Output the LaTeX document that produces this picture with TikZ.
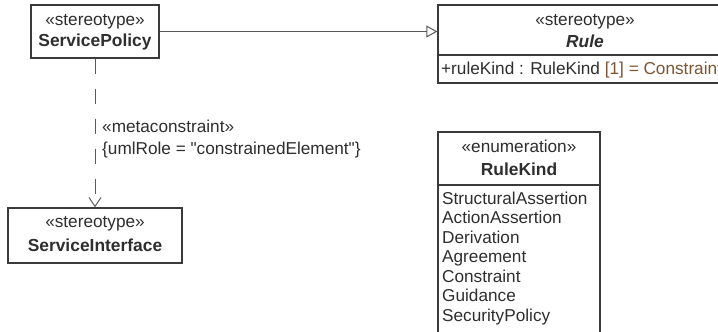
\documentclass[tikz,border=0pt]{standalone}
\usepackage{fontspec}
\setmainfont{Liberation Sans}[Ligatures=TeXOff]
\usetikzlibrary{arrows.meta}
\definecolor{txt}{HTML}{2E2E2E}
\definecolor{edge}{HTML}{3A3A3A}
\definecolor{wire}{HTML}{5A5A5A}
\definecolor{valc}{HTML}{7D5532}
\tikzset{
  umlbox/.style={draw=edge, line width=1.3pt, fill=white, inner sep=0pt},
  lbl/.style={text=txt, inner sep=0pt, font=\fontsize{17.2}{19.5}\selectfont},
  ttl/.style={lbl, font=\fontsize{17.4}{19.5}\selectfont\bfseries},
  wireline/.style={draw=wire, line width=1pt}
}
\begin{document}
\begin{tikzpicture}[x=1pt,y=-1pt]
\useasboundingbox (0,0) rectangle (718,332);
\clip (0,0) rectangle (718,332);
\fill[white] (0,0) rectangle (718,332);

% ServicePolicy
\node[umlbox, minimum width=128pt, minimum height=53pt] (sp) at (95,31.5) {};
\node[lbl] (spst) at (95,22) {«stereotype»};
\node[ttl] (spname) at (95,42) {ServicePolicy};

% ServiceInterface
\node[umlbox, minimum width=174pt, minimum height=55pt] (si) at (95,235.5) {};
\node[lbl] (sist) at (95,224) {«stereotype»};
\node[ttl] (siname) at (95,245) {ServiceInterface};

% Rule
\node[umlbox, minimum width=294pt, minimum height=78pt] (rule) at (585,44) {};
\coordinate (ruleL) at (438,55);
\coordinate (ruleR) at (732,55);
\draw[draw=edge, line width=1.3pt] (ruleL) -- (ruleR);
\node[lbl] (rulest) at (585,22) {«stereotype»};
\node[ttl, font=\fontsize{17.4}{19.5}\selectfont\bfseries\itshape] (rulename) at (585,41) {Rule};
\node[lbl, anchor=west] (ruleattr) at (441,70) {+ruleKind : RuleKind \textcolor{valc}{[1] = Constraint}};

% RuleKind
\node[umlbox, minimum width=162pt, minimum height=208pt] (rk) at (519,236) {};
\coordinate (rkL) at (438,185);
\coordinate (rkR) at (600,185);
\draw[draw=edge, line width=1.3pt] (rkL) -- (rkR);
\node[lbl] (rkst) at (519,146) {«enumeration»};
\node[ttl] (rkname) at (519,169) {RuleKind};
\foreach \t [count=\i] in {StructuralAssertion,ActionAssertion,Derivation,Agreement,Constraint,Guidance,SecurityPolicy}{
  \node[lbl, anchor=base west] (item\i) at (442,{198+6+(\i-1)*19.5}) {\t};
}

% connectors
\draw[wireline, -{Triangle[open, length=11pt, width=12pt, line width=1pt]}] (sp.east) -- (sp.east -| rule.west);
\draw[wireline, dash pattern=on 15pt off 15pt, -{Straight Barb[length=9pt, width=12pt]}] (sp.south) -- (si.north);

% labels
\node[lbl, anchor=west] (meta) at (102,126) {«metaconstraint»};
\node[lbl, anchor=west] (role) at (102,150) {\{umlRole = "constrainedElement"\}};
\end{tikzpicture}
\end{document}
